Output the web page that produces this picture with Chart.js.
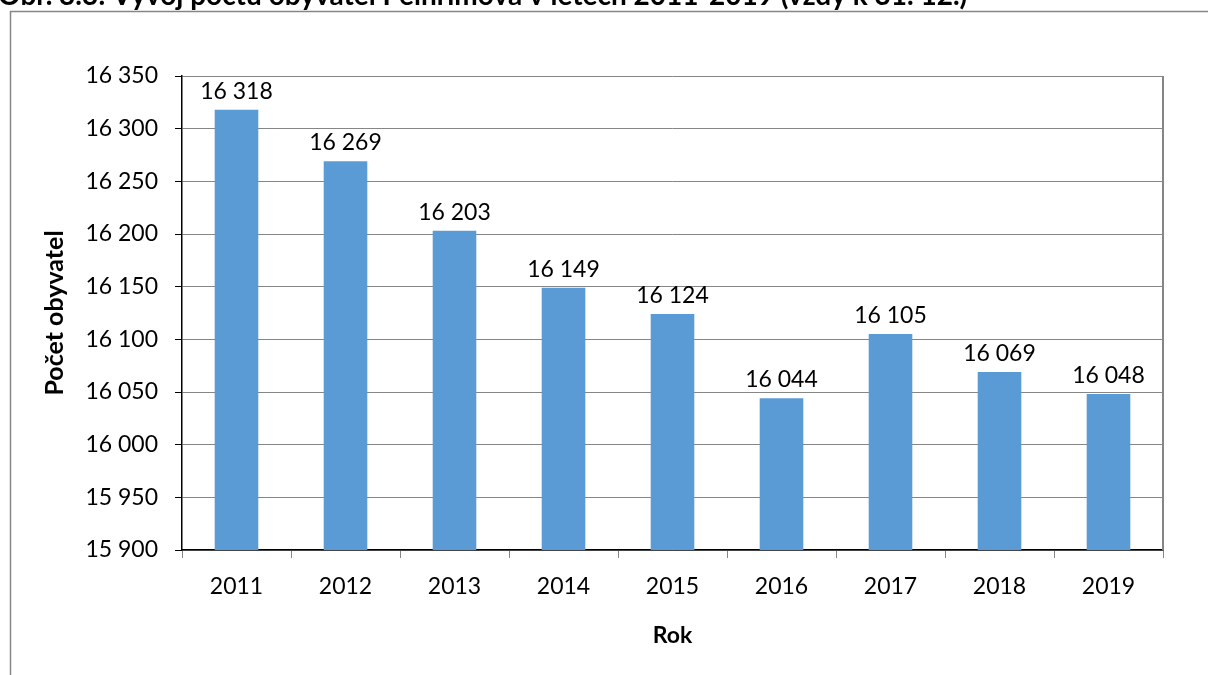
<!DOCTYPE html>
<html>
<head>
<meta charset="utf-8">
<script src="https://cdn.jsdelivr.net/npm/chart.js@4/dist/chart.umd.min.js"></script>
<style>
    html, body { margin: 0; padding: 0; background: #fff; }
    #wrap { width: 1208px; height: 675px; position: relative; }
</style>
</head>
<body>
<div id="wrap"><canvas id="chartPopulation" width="1208" height="675"></canvas></div>
<script>
const YEARS = ['2011', '2012', '2013', '2014', '2015', '2016', '2017', '2018', '2019'];
const POPULATION = [16318, 16269, 16203, 16149, 16124, 16044, 16105, 16069, 16048];
const Y_MIN = 15900;
const Y_MAX = 16350;
const Y_STEP = 50;
const TITLE = 'Obr. 3.3: Vývoj počtu obyvatel Pelhřimova v letech 2011-2019 (vždy k 31. 12.)';
const Y_TITLE = 'Počet obyvatel';
const X_TITLE = 'Rok';

const FONT = 'Lato, "Open Sans", sans-serif';

function formatNumber(v) {
    return String(v).replace(/\B(?=(\d{3})+(?!\d))/g, ' ');
}

// frame, title, axis titles, value labels
const decorPlugin = {
    id: 'decor',
    afterDraw(chart) {
        const ctx = chart.ctx;
        const area = chart.chartArea;
        ctx.save();
        // outer frame
        ctx.strokeStyle = '#868686';
        ctx.lineWidth = 1.5;
        ctx.beginPath();
        ctx.moveTo(10.5, 680);
        ctx.lineTo(10.5, 11.5);
        ctx.lineTo(1215, 11.5);
        ctx.stroke();
        // right border of plot
        ctx.lineWidth = 2;
        ctx.beginPath();
        ctx.moveTo(area.right, area.top);
        ctx.lineTo(area.right, area.bottom);
        ctx.stroke();

        ctx.fillStyle = '#000';
        ctx.font = 'bold 28px ' + FONT;
        ctx.textAlign = 'left';
        ctx.textBaseline = 'alphabetic';
        ctx.fillText(TITLE, -2, 5);

        ctx.font = 'bold 23px ' + FONT;
        ctx.textAlign = 'center';
        ctx.textBaseline = 'middle';
        ctx.fillText(X_TITLE, (area.left + area.right) / 2, 636);
        ctx.save();
        ctx.translate(55, (area.top + area.bottom) / 2);
        ctx.rotate(-Math.PI / 2);
        ctx.font = 'bold 25px ' + FONT;
        ctx.fillText(Y_TITLE, 0, 0);
        ctx.restore();

        // value labels above bars
        ctx.font = '23px ' + FONT;
        ctx.textBaseline = 'bottom';
        const meta = chart.getDatasetMeta(0);
        meta.data.forEach((bar, i) => {
            ctx.fillText(formatNumber(POPULATION[i]), bar.x, bar.y - 7);
        });
        ctx.restore();
    },
};

const ctx = document.getElementById('chartPopulation');
new Chart(ctx, {
    type: 'bar',
    data: {
        labels: YEARS,
        datasets: [{
            data: POPULATION,
            backgroundColor: '#5b9bd5',
            borderWidth: 0,
            barPercentage: 0.4,
            categoryPercentage: 1,
        }],
    },
    options: {
        responsive: false,
        animation: false,
        devicePixelRatio: 1,
        layout: {
            padding: { top: 76, right: 45, bottom: 0, left: 0 },
        },
        plugins: {
            legend: { display: false },
            tooltip: { enabled: false },
        },
        scales: {
            x: {
                grid: {
                    offset: true,
                    drawOnChartArea: false,
                    tickLength: 8,
                    tickColor: '#868686',
                },
                border: { color: '#000', width: 1.5 },
                ticks: {
                    color: '#000',
                    font: { family: FONT, size: 23 },
                    padding: 15,
                },
                afterFit(scale) {
                    scale.height = 125;
                },
            },
            y: {
                min: Y_MIN,
                max: Y_MAX,
                grid: {
                    color: '#868686',
                    tickLength: 7,
                    tickColor: '#000',
                },
                border: { color: '#000', width: 1.5 },
                ticks: {
                    stepSize: Y_STEP,
                    color: '#000',
                    font: { family: FONT, size: 23 },
                    padding: 17,
                    callback: (v) => formatNumber(v),
                },
                afterFit(scale) {
                    scale.width = 182;
                },
            },
        },
    },
    plugins: [decorPlugin],
});
</script>
</body>
</html>
